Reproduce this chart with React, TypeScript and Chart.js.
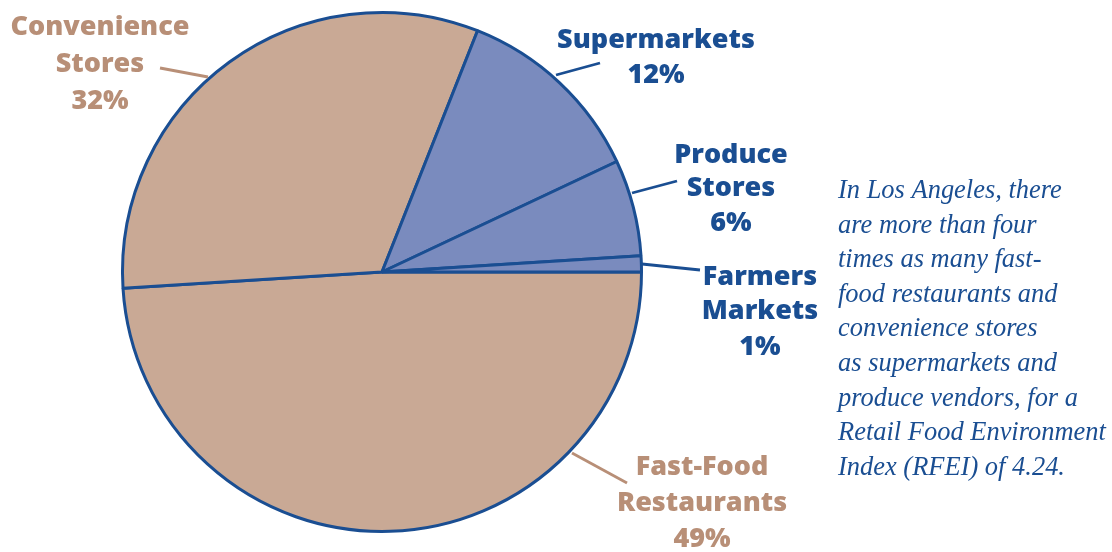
import React, { useEffect, useRef } from "react";
import { Chart, registerables } from "chart.js";

Chart.register(...registerables);

const categories = ["Fast-Food Restaurants", "Convenience Stores", "Supermarkets", "Produce Stores", "Farmers Markets"];
const shares = [49, 32, 12, 6, 1];
const sliceColors = ["#C9A995", "#C9A995", "#7A8BBE", "#7A8BBE", "#7A8BBE"];
const labelLines = [
  ["Fast-Food", "Restaurants", "49%"],
  ["Convenience", "Stores", "32%"],
  ["Supermarkets", "12%"],
  ["Produce", "Stores", "6%"],
  ["Farmers", "Markets", "1%"],
];
const noteLines = [
  "In Los Angeles, there",
  "are more than four",
  "times as many fast-",
  "food restaurants and",
  "convenience stores",
  "as supermarkets and",
  "produce vendors, for a",
  "Retail Food Environment",
  "Index (RFEI) of 4.24.",
];

const TAN_TEXT = "#B88F77";
const BLUE_TEXT = "#1A4E92";
const BORDER = "#1A4E92";

const labelPos = [
  { x: 702, y: 467, line: [572, 453, 627, 483], color: TAN_TEXT },
  { x: 100, y: 27, line: [160, 68, 208, 77], color: TAN_TEXT },
  { x: 656, y: 40, line: [556, 75, 600, 63], color: BLUE_TEXT },
  { x: 731, y: 155, line: [632, 193, 677, 181], color: BLUE_TEXT },
  { x: 760, y: 277, line: [642, 264, 700, 270], color: BLUE_TEXT },
];
const lineGaps = [
  [36, 36],
  [37, 37],
  [35],
  [33, 35],
  [34, 36],
];

const labelPlugin = {
  id: "labelPlugin",
  afterDraw(chart: any) {
    const ctx = chart.ctx;
    ctx.save();
    labelPos.forEach((p, i) => {
      ctx.strokeStyle = p.color;
      ctx.lineWidth = 2.8;
      ctx.beginPath();
      ctx.moveTo(p.line[0], p.line[1]);
      ctx.lineTo(p.line[2], p.line[3]);
      ctx.stroke();
      ctx.fillStyle = p.color;
      ctx.font = "800 27px 'Open Sans'";
      ctx.textAlign = "center";
      ctx.textBaseline = "middle";
      let y = p.y;
      labelLines[i].forEach((t, j) => {
        ctx.fillText(t, p.x, y);
        if (j < lineGaps[i].length) y += lineGaps[i][j];
      });
    });
    ctx.fillStyle = BLUE_TEXT;
    ctx.font = "italic 20px 'Liberation Serif'";
    const w = ctx.measureText(noteLines[7]).width;
    const size = Math.min(28, (20 * 268) / w);
    ctx.font = `italic ${size}px 'Liberation Serif'`;
    ctx.textAlign = "left";
    ctx.textBaseline = "alphabetic";
    noteLines.forEach((t, j) => {
      ctx.fillText(t, 838, 198 + j * 34.6);
    });
    ctx.restore();
  },
};

export default function App() {
  const ref = useRef<HTMLCanvasElement>(null);
  useEffect(() => {
    document.body.style.margin = "0";
    const chart = new Chart(ref.current!, {
      type: "pie",
      data: {
        labels: categories,
        datasets: [
          {
            data: shares,
            backgroundColor: sliceColors,
            borderColor: BORDER,
            borderWidth: 3,
          },
        ],
      },
      options: {
        responsive: false,
        animation: false,
        rotation: 90,
        layout: { padding: { left: 121, right: 469, top: 11, bottom: 19 } },
        plugins: {
          legend: { display: false },
          tooltip: { enabled: false },
        },
      },
      plugins: [labelPlugin],
    });
    return () => chart.destroy();
  }, []);
  return (
    <div style={{ width: 1112, height: 552, background: "#fff" }}>
      <canvas ref={ref} width={1112} height={552} style={{ display: "block" }} />
    </div>
  );
}
